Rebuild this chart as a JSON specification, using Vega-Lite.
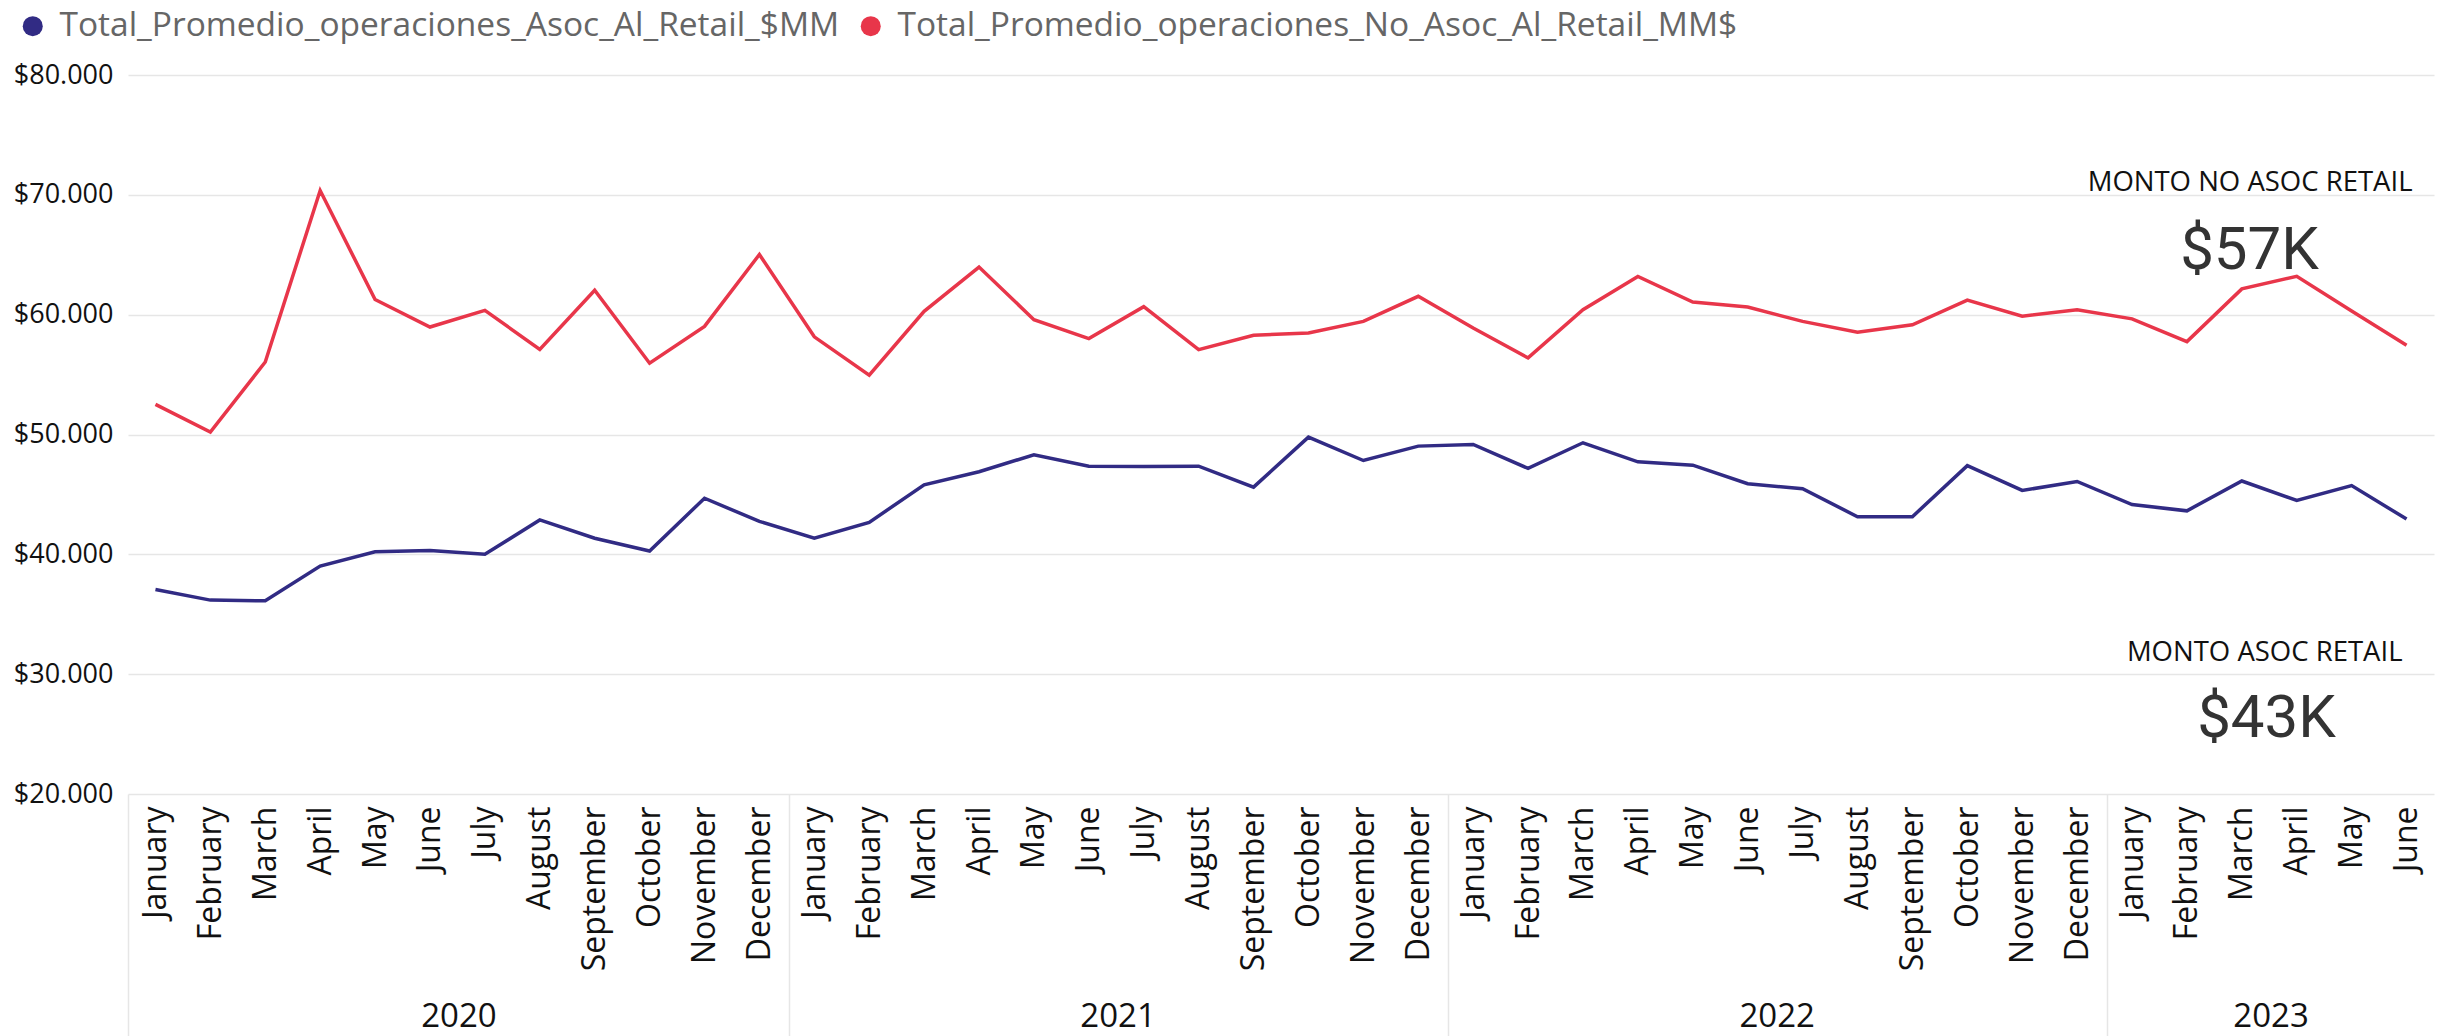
{
  "$schema": "https://vega.github.io/schema/vega-lite/v6.json",
  "width": 2306,
  "height": 719,
  "autosize": {"type": "none"},
  "padding": {"left": 128, "top": 75, "right": 16, "bottom": 242},
  "background": "white",
  "config": {"view": {"stroke": null}, "font": "Open Sans"},
  "data": {"values": [
    {"fecha": "2020-01-15", "serie": "Total_Promedio_operaciones_Asoc_Al_Retail_$MM", "valor": 37070},
    {"fecha": "2020-02-15", "serie": "Total_Promedio_operaciones_Asoc_Al_Retail_$MM", "valor": 36180},
    {"fecha": "2020-03-15", "serie": "Total_Promedio_operaciones_Asoc_Al_Retail_$MM", "valor": 36120},
    {"fecha": "2020-04-15", "serie": "Total_Promedio_operaciones_Asoc_Al_Retail_$MM", "valor": 39020},
    {"fecha": "2020-05-15", "serie": "Total_Promedio_operaciones_Asoc_Al_Retail_$MM", "valor": 40220},
    {"fecha": "2020-06-15", "serie": "Total_Promedio_operaciones_Asoc_Al_Retail_$MM", "valor": 40310},
    {"fecha": "2020-07-15", "serie": "Total_Promedio_operaciones_Asoc_Al_Retail_$MM", "valor": 40000},
    {"fecha": "2020-08-15", "serie": "Total_Promedio_operaciones_Asoc_Al_Retail_$MM", "valor": 42870},
    {"fecha": "2020-09-15", "serie": "Total_Promedio_operaciones_Asoc_Al_Retail_$MM", "valor": 41340},
    {"fecha": "2020-10-15", "serie": "Total_Promedio_operaciones_Asoc_Al_Retail_$MM", "valor": 40280},
    {"fecha": "2020-11-15", "serie": "Total_Promedio_operaciones_Asoc_Al_Retail_$MM", "valor": 44680},
    {"fecha": "2020-12-15", "serie": "Total_Promedio_operaciones_Asoc_Al_Retail_$MM", "valor": 42750},
    {"fecha": "2021-01-15", "serie": "Total_Promedio_operaciones_Asoc_Al_Retail_$MM", "valor": 41350},
    {"fecha": "2021-02-15", "serie": "Total_Promedio_operaciones_Asoc_Al_Retail_$MM", "valor": 42670},
    {"fecha": "2021-03-15", "serie": "Total_Promedio_operaciones_Asoc_Al_Retail_$MM", "valor": 45800},
    {"fecha": "2021-04-15", "serie": "Total_Promedio_operaciones_Asoc_Al_Retail_$MM", "valor": 46890},
    {"fecha": "2021-05-15", "serie": "Total_Promedio_operaciones_Asoc_Al_Retail_$MM", "valor": 48310},
    {"fecha": "2021-06-15", "serie": "Total_Promedio_operaciones_Asoc_Al_Retail_$MM", "valor": 47360},
    {"fecha": "2021-07-15", "serie": "Total_Promedio_operaciones_Asoc_Al_Retail_$MM", "valor": 47330},
    {"fecha": "2021-08-15", "serie": "Total_Promedio_operaciones_Asoc_Al_Retail_$MM", "valor": 47360},
    {"fecha": "2021-09-15", "serie": "Total_Promedio_operaciones_Asoc_Al_Retail_$MM", "valor": 45610},
    {"fecha": "2021-10-15", "serie": "Total_Promedio_operaciones_Asoc_Al_Retail_$MM", "valor": 49780},
    {"fecha": "2021-11-15", "serie": "Total_Promedio_operaciones_Asoc_Al_Retail_$MM", "valor": 47830},
    {"fecha": "2021-12-15", "serie": "Total_Promedio_operaciones_Asoc_Al_Retail_$MM", "valor": 49030},
    {"fecha": "2022-01-15", "serie": "Total_Promedio_operaciones_Asoc_Al_Retail_$MM", "valor": 49170},
    {"fecha": "2022-02-15", "serie": "Total_Promedio_operaciones_Asoc_Al_Retail_$MM", "valor": 47170},
    {"fecha": "2022-03-15", "serie": "Total_Promedio_operaciones_Asoc_Al_Retail_$MM", "valor": 49310},
    {"fecha": "2022-04-15", "serie": "Total_Promedio_operaciones_Asoc_Al_Retail_$MM", "valor": 47720},
    {"fecha": "2022-05-15", "serie": "Total_Promedio_operaciones_Asoc_Al_Retail_$MM", "valor": 47440},
    {"fecha": "2022-06-15", "serie": "Total_Promedio_operaciones_Asoc_Al_Retail_$MM", "valor": 45890},
    {"fecha": "2022-07-15", "serie": "Total_Promedio_operaciones_Asoc_Al_Retail_$MM", "valor": 45470},
    {"fecha": "2022-08-15", "serie": "Total_Promedio_operaciones_Asoc_Al_Retail_$MM", "valor": 43140},
    {"fecha": "2022-09-15", "serie": "Total_Promedio_operaciones_Asoc_Al_Retail_$MM", "valor": 43140},
    {"fecha": "2022-10-15", "serie": "Total_Promedio_operaciones_Asoc_Al_Retail_$MM", "valor": 47400},
    {"fecha": "2022-11-15", "serie": "Total_Promedio_operaciones_Asoc_Al_Retail_$MM", "valor": 45330},
    {"fecha": "2022-12-15", "serie": "Total_Promedio_operaciones_Asoc_Al_Retail_$MM", "valor": 46080},
    {"fecha": "2023-01-15", "serie": "Total_Promedio_operaciones_Asoc_Al_Retail_$MM", "valor": 44150},
    {"fecha": "2023-02-15", "serie": "Total_Promedio_operaciones_Asoc_Al_Retail_$MM", "valor": 43630},
    {"fecha": "2023-03-15", "serie": "Total_Promedio_operaciones_Asoc_Al_Retail_$MM", "valor": 46120},
    {"fecha": "2023-04-15", "serie": "Total_Promedio_operaciones_Asoc_Al_Retail_$MM", "valor": 44500},
    {"fecha": "2023-05-15", "serie": "Total_Promedio_operaciones_Asoc_Al_Retail_$MM", "valor": 45740},
    {"fecha": "2023-06-15", "serie": "Total_Promedio_operaciones_Asoc_Al_Retail_$MM", "valor": 42940},
    {"fecha": "2020-01-15", "serie": "Total_Promedio_operaciones_No_Asoc_Al_Retail_MM$", "valor": 52510},
    {"fecha": "2020-02-15", "serie": "Total_Promedio_operaciones_No_Asoc_Al_Retail_MM$", "valor": 50200},
    {"fecha": "2020-03-15", "serie": "Total_Promedio_operaciones_No_Asoc_Al_Retail_MM$", "valor": 56050},
    {"fecha": "2020-04-15", "serie": "Total_Promedio_operaciones_No_Asoc_Al_Retail_MM$", "valor": 70360},
    {"fecha": "2020-05-15", "serie": "Total_Promedio_operaciones_No_Asoc_Al_Retail_MM$", "valor": 61260},
    {"fecha": "2020-06-15", "serie": "Total_Promedio_operaciones_No_Asoc_Al_Retail_MM$", "valor": 58970},
    {"fecha": "2020-07-15", "serie": "Total_Promedio_operaciones_No_Asoc_Al_Retail_MM$", "valor": 60360},
    {"fecha": "2020-08-15", "serie": "Total_Promedio_operaciones_No_Asoc_Al_Retail_MM$", "valor": 57100},
    {"fecha": "2020-09-15", "serie": "Total_Promedio_operaciones_No_Asoc_Al_Retail_MM$", "valor": 62040},
    {"fecha": "2020-10-15", "serie": "Total_Promedio_operaciones_No_Asoc_Al_Retail_MM$", "valor": 55950},
    {"fecha": "2020-11-15", "serie": "Total_Promedio_operaciones_No_Asoc_Al_Retail_MM$", "valor": 59020},
    {"fecha": "2020-12-15", "serie": "Total_Promedio_operaciones_No_Asoc_Al_Retail_MM$", "valor": 65020},
    {"fecha": "2021-01-15", "serie": "Total_Promedio_operaciones_No_Asoc_Al_Retail_MM$", "valor": 58150},
    {"fecha": "2021-02-15", "serie": "Total_Promedio_operaciones_No_Asoc_Al_Retail_MM$", "valor": 54950},
    {"fecha": "2021-03-15", "serie": "Total_Promedio_operaciones_No_Asoc_Al_Retail_MM$", "valor": 60280},
    {"fecha": "2021-04-15", "serie": "Total_Promedio_operaciones_No_Asoc_Al_Retail_MM$", "valor": 63970},
    {"fecha": "2021-05-15", "serie": "Total_Promedio_operaciones_No_Asoc_Al_Retail_MM$", "valor": 59580},
    {"fecha": "2021-06-15", "serie": "Total_Promedio_operaciones_No_Asoc_Al_Retail_MM$", "valor": 58000},
    {"fecha": "2021-07-15", "serie": "Total_Promedio_operaciones_No_Asoc_Al_Retail_MM$", "valor": 60670},
    {"fecha": "2021-08-15", "serie": "Total_Promedio_operaciones_No_Asoc_Al_Retail_MM$", "valor": 57080},
    {"fecha": "2021-09-15", "serie": "Total_Promedio_operaciones_No_Asoc_Al_Retail_MM$", "valor": 58280},
    {"fecha": "2021-10-15", "serie": "Total_Promedio_operaciones_No_Asoc_Al_Retail_MM$", "valor": 58470},
    {"fecha": "2021-11-15", "serie": "Total_Promedio_operaciones_No_Asoc_Al_Retail_MM$", "valor": 59440},
    {"fecha": "2021-12-15", "serie": "Total_Promedio_operaciones_No_Asoc_Al_Retail_MM$", "valor": 61530},
    {"fecha": "2022-01-15", "serie": "Total_Promedio_operaciones_No_Asoc_Al_Retail_MM$", "valor": 58890},
    {"fecha": "2022-02-15", "serie": "Total_Promedio_operaciones_No_Asoc_Al_Retail_MM$", "valor": 56390},
    {"fecha": "2022-03-15", "serie": "Total_Promedio_operaciones_No_Asoc_Al_Retail_MM$", "valor": 60420},
    {"fecha": "2022-04-15", "serie": "Total_Promedio_operaciones_No_Asoc_Al_Retail_MM$", "valor": 63190},
    {"fecha": "2022-05-15", "serie": "Total_Promedio_operaciones_No_Asoc_Al_Retail_MM$", "valor": 61060},
    {"fecha": "2022-06-15", "serie": "Total_Promedio_operaciones_No_Asoc_Al_Retail_MM$", "valor": 60640},
    {"fecha": "2022-07-15", "serie": "Total_Promedio_operaciones_No_Asoc_Al_Retail_MM$", "valor": 59440},
    {"fecha": "2022-08-15", "serie": "Total_Promedio_operaciones_No_Asoc_Al_Retail_MM$", "valor": 58530},
    {"fecha": "2022-09-15", "serie": "Total_Promedio_operaciones_No_Asoc_Al_Retail_MM$", "valor": 59150},
    {"fecha": "2022-10-15", "serie": "Total_Promedio_operaciones_No_Asoc_Al_Retail_MM$", "valor": 61220},
    {"fecha": "2022-11-15", "serie": "Total_Promedio_operaciones_No_Asoc_Al_Retail_MM$", "valor": 59870},
    {"fecha": "2022-12-15", "serie": "Total_Promedio_operaciones_No_Asoc_Al_Retail_MM$", "valor": 60400},
    {"fecha": "2023-01-15", "serie": "Total_Promedio_operaciones_No_Asoc_Al_Retail_MM$", "valor": 59650},
    {"fecha": "2023-02-15", "serie": "Total_Promedio_operaciones_No_Asoc_Al_Retail_MM$", "valor": 57750},
    {"fecha": "2023-03-15", "serie": "Total_Promedio_operaciones_No_Asoc_Al_Retail_MM$", "valor": 62150},
    {"fecha": "2023-04-15", "serie": "Total_Promedio_operaciones_No_Asoc_Al_Retail_MM$", "valor": 63200},
    {"fecha": "2023-05-15", "serie": "Total_Promedio_operaciones_No_Asoc_Al_Retail_MM$", "valor": 60300},
    {"fecha": "2023-06-15", "serie": "Total_Promedio_operaciones_No_Asoc_Al_Retail_MM$", "valor": 57440}
  ]},
  "layer": [
    {
      "layer": [
        {
          "mark": {"type": "line", "strokeWidth": 3.5, "strokeJoin": "miter"},
          "encoding": {
            "x": {"field": "fecha", "timeUnit": "utcyearmonth", "type": "ordinal", "title": null,
              "axis": {"orient": "bottom", "format": "%B", "labelAngle": -90, "labelFontSize": 32, "labelPadding": 12, "labelColor": "#111111", "ticks": false, "domain": false, "grid": false, "labelOverlap": false, "labelLimit": 400}},
            "y": {"field": "valor", "type": "quantitative", "title": null,
              "scale": {"domain": [20000, 80000], "zero": false, "nice": false},
              "axis": {"values": [20000, 30000, 40000, 50000, 60000, 70000, 80000], "labelExpr": "'$' + replace(format(datum.value, ','), ',', '.')", "labelFontSize": 27, "labelColor": "#111111", "labelPadding": 15, "ticks": false, "domain": false, "gridColor": "#E6E6E6", "gridWidth": 1.5}},
            "color": {"field": "serie", "type": "nominal",
              "scale": {"domain": ["Total_Promedio_operaciones_Asoc_Al_Retail_$MM", "Total_Promedio_operaciones_No_Asoc_Al_Retail_MM$"], "range": ["#312B84", "#E8364A"]},
              "legend": {"orient": "none", "legendX": -112, "legendY": -66, "direction": "horizontal", "title": null, "symbolType": "circle", "symbolSize": 400, "symbolStrokeWidth": 0, "labelFontSize": 33.5, "labelColor": "#666666", "labelOffset": 10, "columnPadding": 14, "labelLimit": 0, "padding": 0,
                "encode": {"symbols": {"update": {"fill": {"scale": "color", "field": "value"}, "fillOpacity": {"value": 1}, "strokeWidth": {"value": 0}}}}}}
          }
        },
        {
          "transform": [{"filter": {"and": [{"field": "serie", "equal": "Total_Promedio_operaciones_No_Asoc_Al_Retail_MM$"}, {"field": "fecha", "timeUnit": "utcyearmonth", "equal": {"year": 2023, "month": 6, "utc": true}}]}}],
          "mark": {"type": "text", "align": "right", "baseline": "alphabetic", "dx": 6, "dy": -154, "fontSize": 27.5, "color": "#111111"},
          "encoding": {
            "x": {"field": "fecha", "timeUnit": "utcyearmonth", "type": "ordinal", "title": null},
            "y": {"field": "valor", "type": "quantitative", "title": null},
            "text": {"value": "MONTO NO ASOC RETAIL"}
          }
        },
        {
          "transform": [{"filter": {"and": [{"field": "serie", "equal": "Total_Promedio_operaciones_No_Asoc_Al_Retail_MM$"}, {"field": "fecha", "timeUnit": "utcyearmonth", "equal": {"year": 2023, "month": 6, "utc": true}}]}}],
          "mark": {"type": "text", "align": "center", "baseline": "alphabetic", "dx": -157, "dy": -76, "fontSize": 60, "font": "Roboto", "color": "#333333"},
          "encoding": {
            "x": {"field": "fecha", "timeUnit": "utcyearmonth", "type": "ordinal", "title": null},
            "y": {"field": "valor", "type": "quantitative", "title": null},
            "text": {"value": "$57K"}
          }
        },
        {
          "transform": [{"filter": {"and": [{"field": "serie", "equal": "Total_Promedio_operaciones_Asoc_Al_Retail_$MM"}, {"field": "fecha", "timeUnit": "utcyearmonth", "equal": {"year": 2023, "month": 6, "utc": true}}]}}],
          "mark": {"type": "text", "align": "right", "baseline": "alphabetic", "dx": -4, "dy": 142, "fontSize": 27.5, "color": "#111111"},
          "encoding": {
            "x": {"field": "fecha", "timeUnit": "utcyearmonth", "type": "ordinal", "title": null},
            "y": {"field": "valor", "type": "quantitative", "title": null},
            "text": {"value": "MONTO ASOC RETAIL"}
          }
        },
        {
          "transform": [{"filter": {"and": [{"field": "serie", "equal": "Total_Promedio_operaciones_Asoc_Al_Retail_$MM"}, {"field": "fecha", "timeUnit": "utcyearmonth", "equal": {"year": 2023, "month": 6, "utc": true}}]}}],
          "mark": {"type": "text", "align": "center", "baseline": "alphabetic", "dx": -140, "dy": 218, "fontSize": 60, "font": "Roboto", "color": "#333333"},
          "encoding": {
            "x": {"field": "fecha", "timeUnit": "utcyearmonth", "type": "ordinal", "title": null},
            "y": {"field": "valor", "type": "quantitative", "title": null},
            "text": {"value": "$43K"}
          }
        }
      ]
    },
    {
      "mark": {"type": "point", "opacity": 0},
      "encoding": {
        "x": {"field": "fecha", "type": "temporal", "title": null,
          "scale": {"type": "utc", "nice": false, "domain": [{"year": 2020, "month": 1, "date": 1, "utc": true}, {"year": 2023, "month": 7, "date": 1, "utc": true}]},
          "axis": {"orient": "bottom", "values": [{"year": 2020, "month": 1, "date": 1, "utc": true}, {"year": 2021, "month": 1, "date": 1, "utc": true}, {"year": 2022, "month": 1, "date": 1, "utc": true}, {"year": 2023, "month": 1, "date": 1, "utc": true}], "labels": false, "domain": false, "grid": false, "ticks": true, "tickSize": 242, "tickColor": "#E6E6E6", "tickWidth": 1.5}}
      }
    },
    {
      "mark": {"type": "point", "opacity": 0},
      "encoding": {
        "x": {"field": "fecha", "type": "temporal", "title": null,
          "scale": {"type": "utc", "nice": false, "domain": [{"year": 2020, "month": 1, "date": 1, "utc": true}, {"year": 2023, "month": 7, "date": 1, "utc": true}]},
          "axis": {"orient": "bottom", "values": [{"year": 2020, "month": 7, "date": 2, "utc": true}, {"year": 2021, "month": 7, "date": 2, "utc": true}, {"year": 2022, "month": 7, "date": 2, "utc": true}, {"year": 2023, "month": 4, "date": 1, "hours": 12, "utc": true}], "labelExpr": "utcFormat(datum.value, '%Y')", "labelFontSize": 33, "labelColor": "#111111", "labelPadding": 206, "labelFlush": false, "labelOverlap": false, "domain": false, "grid": false, "ticks": false}}
      }
    }
  ],
  "resolve": {"scale": {"x": "independent"}}
}
